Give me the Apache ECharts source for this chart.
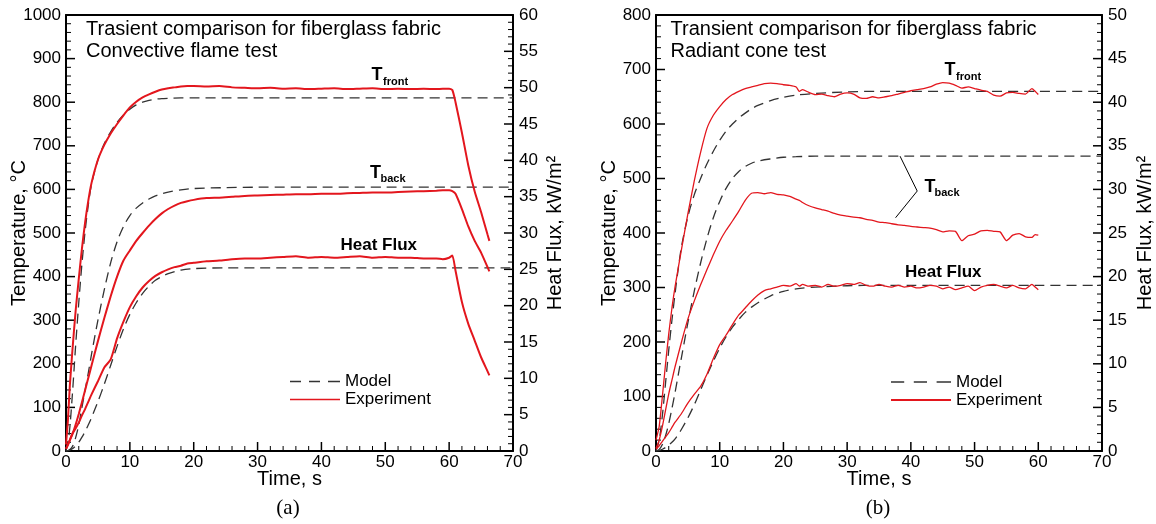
<!DOCTYPE html>
<html>
<head>
<meta charset="utf-8">
<title>Transient comparison for fiberglass fabric</title>
<script src="https://cdn.jsdelivr.net/npm/echarts@6/dist/echarts.min.js"></script>
<style>
  html, body { margin: 0; padding: 0; background: #fff; }
  #main { width: 1156px; height: 524px; }
</style>
</head>
<body>
<div id="main"></div>
<script>
// ---- (a) convective flame test ----
// model curves (dashed)
var modelTimeA = [0, 0.5, 1, 1.5, 2, 2.5, 3, 3.5, 4, 5, 6, 7, 8, 9, 10, 11, 12, 13, 14, 15, 16, 18, 20, 25, 30, 40, 50, 60, 70]
var frontModelA = [0, 40, 130, 240, 340, 430, 505, 565, 612, 668, 705, 732, 754, 771, 784, 794, 800, 804, 807, 808, 809, 810, 810, 810, 810, 810, 810, 810, 810]
var backModelA = [0, 2, 10, 30, 60, 100, 140, 180, 222, 300, 370, 432, 480, 515, 540, 557, 569, 578, 585, 590, 594, 599, 602, 604, 605, 605, 605, 605, 605]
var fluxModelA = [0, 0.1, 0.3, 0.7, 1.2, 1.9, 2.7, 3.6, 4.6, 6.8, 9.2, 11.8, 14.4, 16.8, 18.8, 20.4, 21.7, 22.7, 23.5, 24.0, 24.4, 24.9, 25.1, 25.2, 25.2, 25.2, 25.2, 25.2, 25.2]
// experiment curves (red)
var expTimeA = [0, 0.3, 0.6, 1, 1.5, 2, 2.5, 3, 3.5, 4, 5, 6, 7, 8, 9, 10, 11, 12, 13, 14, 15, 16, 17, 18, 19, 20, 22, 24, 26, 28, 30, 32, 34, 36, 38, 40, 42, 44, 46, 48, 50, 52, 54, 56, 58, 59, 60, 60.5, 61, 62, 63, 64, 65, 66, 66.3]
var frontExpA = [15, 70, 150, 230, 320, 395, 465, 525, 575, 615, 668, 702, 728, 750, 770, 788, 801, 811, 818, 824, 829, 832, 834, 836, 837, 837, 836, 837, 834, 833, 832, 833, 831, 832, 830, 831, 832, 830, 831, 832, 830, 831, 830, 831, 830, 831, 831, 828, 800, 730, 655, 595, 548, 497, 482]
var backExpA = [5, 15, 25, 38, 60, 85, 112, 140, 168, 196, 252, 305, 355, 400, 437, 460, 482, 500, 517, 532, 545, 555, 563, 569, 573, 576, 580, 581, 583, 585, 586, 587, 588, 589, 589, 590, 590, 591, 592, 593, 593, 594, 595, 596, 597, 598, 598, 596, 590, 555, 515, 482, 455, 422, 412]
var fluxExpA = [0.3, 0.8, 1.5, 2.4, 3.1, 3.9, 4.9, 5.8, 6.8, 7.8, 9.6, 11.5, 12.6, 15.5, 17.8, 19.8, 21.3, 22.5, 23.4, 24.1, 24.6, 25.0, 25.3, 25.5, 25.8, 25.9, 26.1, 26.2, 26.4, 26.5, 26.5, 26.6, 26.7, 26.8, 26.6, 26.7, 26.6, 26.7, 26.8, 26.6, 26.7, 26.6, 26.6, 26.5, 26.5, 26.4, 26.6, 26.9, 24.8, 20.5, 17.5, 15.2, 12.9, 11.0, 10.4]

// ---- (b) radiant cone test ----
var modelTimeB = [0, 0.5, 1, 1.5, 2, 2.5, 3, 3.5, 4, 5, 6, 7, 8, 9, 10, 11, 12, 13, 14, 15, 16, 18, 20, 22, 25, 30, 35, 40, 50, 60, 70]
var frontModelB = [0, 20, 65, 125, 185, 240, 290, 335, 375, 430, 470, 500, 527, 550, 570, 587, 600, 611, 620, 628, 634, 643, 649, 653, 656, 659, 660, 660, 660, 660, 660]
var backModelB = [0, 3, 12, 28, 50, 78, 108, 140, 172, 235, 293, 345, 390, 428, 458, 482, 500, 513, 522, 528, 532, 536, 539, 540, 541, 541, 541, 541, 541, 541, 541]
var fluxModelB = [0, 0.05, 0.2, 0.4, 0.7, 1.0, 1.4, 1.9, 2.5, 3.8, 5.3, 7.0, 8.7, 10.3, 11.8, 13.1, 14.2, 15.1, 15.9, 16.5, 17.0, 17.8, 18.3, 18.6, 18.8, 18.95, 19, 19, 19, 19, 19]
var expTimeB = [0, 0.5, 1, 1.5, 2, 2.5, 3, 4, 5, 6, 7, 8, 9, 10, 11, 12, 13, 14, 15, 16, 17, 18, 19, 20, 21, 22, 22.5, 23, 24, 25, 26, 27, 28, 29, 30, 31, 32, 33, 34, 35, 36, 37, 38, 39, 40, 41, 42, 43, 44, 45, 46, 47, 48, 49, 50, 51, 52, 53, 54, 55, 56, 57, 58, 59, 59.5, 60]
var frontExpB = [20, 45, 100, 160, 215, 262, 302, 370, 435, 495, 548, 592, 616, 632, 645, 654, 660, 665, 668, 671, 674, 675, 674, 672, 671, 668, 660, 663, 658, 654, 655, 652, 650, 655, 657, 655, 648, 647, 650, 648, 650, 652, 655, 658, 661, 663, 665, 668, 673, 676, 675, 671, 666, 668, 665, 662, 660, 653, 651, 657, 658, 656, 655, 665, 660, 654]
var backExpB = [5, 20, 45, 75, 105, 130, 155, 200, 242, 275, 305, 333, 360, 385, 405, 422, 440, 460, 473, 474, 472, 474, 471, 470, 467, 462, 460, 456, 450, 446, 443, 440, 436, 433, 431, 429, 428, 425, 423, 420, 419, 417, 415, 414, 412, 411, 410, 409, 406, 402, 404, 403, 386, 395, 398, 404, 405, 403, 402, 386, 396, 399, 393, 392, 397, 396]
var fluxExpB = [0.2, 0.6, 1.1, 1.6, 2.1, 2.7, 3.3, 4.3, 5.5, 6.5, 7.4, 8.8, 10.6, 12.2, 13.3, 14.5, 15.6, 16.4, 17.2, 17.9, 18.4, 18.6, 18.8, 19.0, 18.9, 19.2, 18.9, 19.1, 18.9, 19.0, 18.8, 19.1, 18.9, 19.0, 19.2, 19.1, 19.3, 19.0, 18.9, 19.1, 18.9, 18.8, 19.0, 18.8, 18.9, 18.7, 18.8, 19.0, 18.9, 18.6, 18.8, 18.5, 18.7, 18.9, 18.4, 18.8, 19.0, 19.1, 18.9, 18.7, 19.0, 18.7, 18.6, 19.1, 18.8, 18.5]

// axis ranges: [max, major step, minor step]
var timeRange = [70, 10, 2]
var tempRangeA = [1000, 100, 20]
var fluxRangeA = [60, 5, 1]
var tempRangeB = [800, 100, 20]
var fluxRangeB = [50, 5, 1]

var FONT = '"Liberation Sans", Arial, sans-serif'
var RED = '#e3161d'
var DARK = '#333'

function zip (ts, vs) {
  return ts.map(function (t, i) { return [t, vs[i]] })
}
function plain (v) { return String(v) }
function black (w) { return { color: '#000', width: w } }

// labelled axis: frame line, labels and title
function labelAxis (gi, pos, range, name, gap) {
  var vertical = pos === 'left' || pos === 'right'
  return {
    type: 'value', gridIndex: gi, position: pos, min: 0, max: range[0], interval: range[1],
    name: name, nameLocation: 'middle', nameRotate: vertical ? 90 : 0, nameGap: gap, nameMoveOverlap: false,
    nameTextStyle: { fontFamily: FONT, fontSize: 20, color: '#000' },
    axisLine: { show: true, onZero: false, lineStyle: black(2) },
    axisTick: { show: false },
    splitLine: { show: false },
    axisLabel: { fontFamily: FONT, fontSize: 17, color: '#000', margin: vertical ? (pos === 'left' ? 5 : 6) : 3, formatter: plain }
  }
}

// top edge of the frame, no ticks
function topAxis (gi) {
  return {
    type: 'value', gridIndex: gi, position: 'top', min: 0, max: 70,
    axisLine: { show: true, onZero: false, lineStyle: black(2) },
    axisTick: { show: false }, axisLabel: { show: false }, splitLine: { show: false }
  }
}

function modelLine (xi, yi, ts, vs) {
  return {
    name: 'Model', type: 'line', xAxisIndex: xi, yAxisIndex: yi,
    data: zip(ts, vs), symbol: 'none', smooth: 0.3, silent: true,
    lineStyle: { color: DARK, width: 1.3, type: [10, 6] }, itemStyle: { color: DARK }
  }
}

function expLine (xi, yi, ts, vs, w) {
  return {
    name: 'Experiment', type: 'line', xAxisIndex: xi, yAxisIndex: yi,
    data: zip(ts, vs), symbol: 'none', smooth: 0.2, silent: true,
    lineStyle: { color: RED, width: w }, itemStyle: { color: RED }
  }
}

// inward frame ticks as a custom series: each item is [x, y, length]
function isMajor (v, range) {
  return Math.abs(v / range[1] - Math.round(v / range[1])) < 1e-6
}
function tickData (range, fixed, alongX) {
  var out = []
  for (var i = 0; i * range[2] <= range[0]; i++) {
    var v = i * range[2]
    var len = isMajor(v, range) ? 9 : 5
    out.push(alongX ? [v, fixed, len] : [fixed, v, len])
  }
  return out
}
function tickSeries (xi, yi, data, dx, dy) {
  return {
    type: 'custom', xAxisIndex: xi, yAxisIndex: yi, data: data, silent: true, z: 3,
    renderItem: function (params, api) {
      var p = api.coord([api.value(0), api.value(1)])
      var len = api.value(2)
      return {
        type: 'line',
        shape: { x1: p[0], y1: p[1], x2: p[0] + dx * len, y2: p[1] + dy * len },
        style: { stroke: '#000', lineWidth: len > 6 ? 1.5 : 1 }
      }
    }
  }
}

// legend keys drawn as plain strokes (dashed / solid)
var legendText = { fontFamily: FONT, fontSize: 17, color: '#000', lineHeight: 15 }
var legendKeys = [
  { name: 'Model', icon: 'path://M0,0h11v1.4h-11zM19,0h11v1.4h-11zM38,0h12v1.4h-12z' },
  { name: 'Experiment', icon: 'path://M0,0h50v1.6h-50z' }
]

var option = {
  animation: false,
  backgroundColor: '#fff',
  grid: [
    { left: 66, top: 15, width: 447, height: 436 },
    { left: 656, top: 15, width: 448, height: 436 }
  ],
  xAxis: [
    labelAxis(0, 'bottom', timeRange, 'Time, s', 18),
    labelAxis(1, 'bottom', timeRange, 'Time, s', 18),
    topAxis(0),
    topAxis(1)
  ],
  yAxis: [
    labelAxis(0, 'left', tempRangeA, 'Temperature, °C', 37),
    labelAxis(0, 'right', fluxRangeA, 'Heat Flux, kW/m²', 32),
    labelAxis(1, 'left', tempRangeB, 'Temperature, °C', 37),
    labelAxis(1, 'right', fluxRangeB, 'Heat Flux, kW/m²', 33)
  ],
  legend: [
    { left: 290, top: 373, padding: 0, orient: 'vertical', data: legendKeys, itemWidth: 50, itemHeight: 2, itemGap: 1, textStyle: legendText, selectedMode: false },
    { left: 891, top: 373.5, padding: 0, orient: 'vertical', data: legendKeys, itemWidth: 60, itemHeight: 2, itemGap: 1, textStyle: legendText, selectedMode: false }
  ],
  series: [
    modelLine(0, 0, modelTimeA, frontModelA),
    modelLine(0, 0, modelTimeA, backModelA),
    modelLine(0, 1, modelTimeA, fluxModelA),
    modelLine(1, 2, modelTimeB, frontModelB),
    modelLine(1, 2, modelTimeB, backModelB),
    modelLine(1, 3, modelTimeB, fluxModelB),
    expLine(0, 0, expTimeA, frontExpA, 2),
    expLine(0, 0, expTimeA, backExpA, 2),
    expLine(0, 1, expTimeA, fluxExpA, 2),
    expLine(1, 2, expTimeB, frontExpB, 1.3),
    expLine(1, 2, expTimeB, backExpB, 1.3),
    expLine(1, 3, expTimeB, fluxExpB, 1.3),
    // frame ticks
    tickSeries(0, 0, tickData(timeRange, 0, true), 0, -1),
    tickSeries(1, 2, tickData(timeRange, 0, true), 0, -1),
    tickSeries(0, 0, tickData(tempRangeA, 0, false), 1, 0),
    tickSeries(0, 1, tickData(fluxRangeA, 70, false), -1, 0),
    tickSeries(1, 2, tickData(tempRangeB, 0, false), 1, 0),
    tickSeries(1, 3, tickData(fluxRangeB, 70, false), -1, 0)
  ]
}

var myChart = echarts.init(document.getElementById('main'), null, { renderer: 'canvas' })
myChart.setOption(option)

// annotations
function txt (x, y, s, size, bold, family) {
  return {
    type: 'text', x: x, y: y, silent: true,
    style: { text: s, fontFamily: family || FONT, fontSize: size, fontWeight: bold ? 'bold' : 'normal', fill: '#000', align: 'left', verticalAlign: 'middle' }
  }
}
function caption (x, y, s) {
  var t = txt(x, y, s, 21, false, '"Liberation Serif", "Times New Roman", serif')
  t.style.align = 'center'
  return t
}

// leader lines for T_back in (b), anchored in data space
function toPx (xi, yi, x, y) {
  return myChart.convertToPixel({ xAxisIndex: xi, yAxisIndex: yi }, [x, y])
}
var tip = toPx(1, 2, 41, 477)

myChart.setOption({
  graphic: [
    txt(86, 29, 'Trasient comparison for fiberglass fabric', 20),
    txt(86, 51, 'Convective flame test', 20),
    txt(371.5, 75.5, 'T', 18, true), txt(383, 82, 'front', 11, true),
    txt(370, 173.5, 'T', 18, true), txt(380.5, 179, 'back', 11, true),
    txt(340.5, 245, 'Heat Flux', 17, true),
    txt(670.5, 29.5, 'Transient comparison for fiberglass fabric', 20),
    txt(670.5, 51.5, 'Radiant cone test', 20),
    txt(944.5, 70.5, 'T', 18, true), txt(956, 77, 'front', 11, true),
    txt(924.5, 187, 'T', 18, true), txt(934.5, 193, 'back', 11, true),
    txt(905, 272.5, 'Heat Flux', 17, true),
    {
      type: 'polyline', silent: true,
      shape: { points: [toPx(1, 2, 38.3, 541), tip, toPx(1, 2, 37.6, 428)] },
      style: { stroke: '#000', lineWidth: 1, fill: null }
    },
    caption(288, 508, '(a)'),
    caption(878, 508, '(b)')
  ]
})
</script>
</body>
</html>
